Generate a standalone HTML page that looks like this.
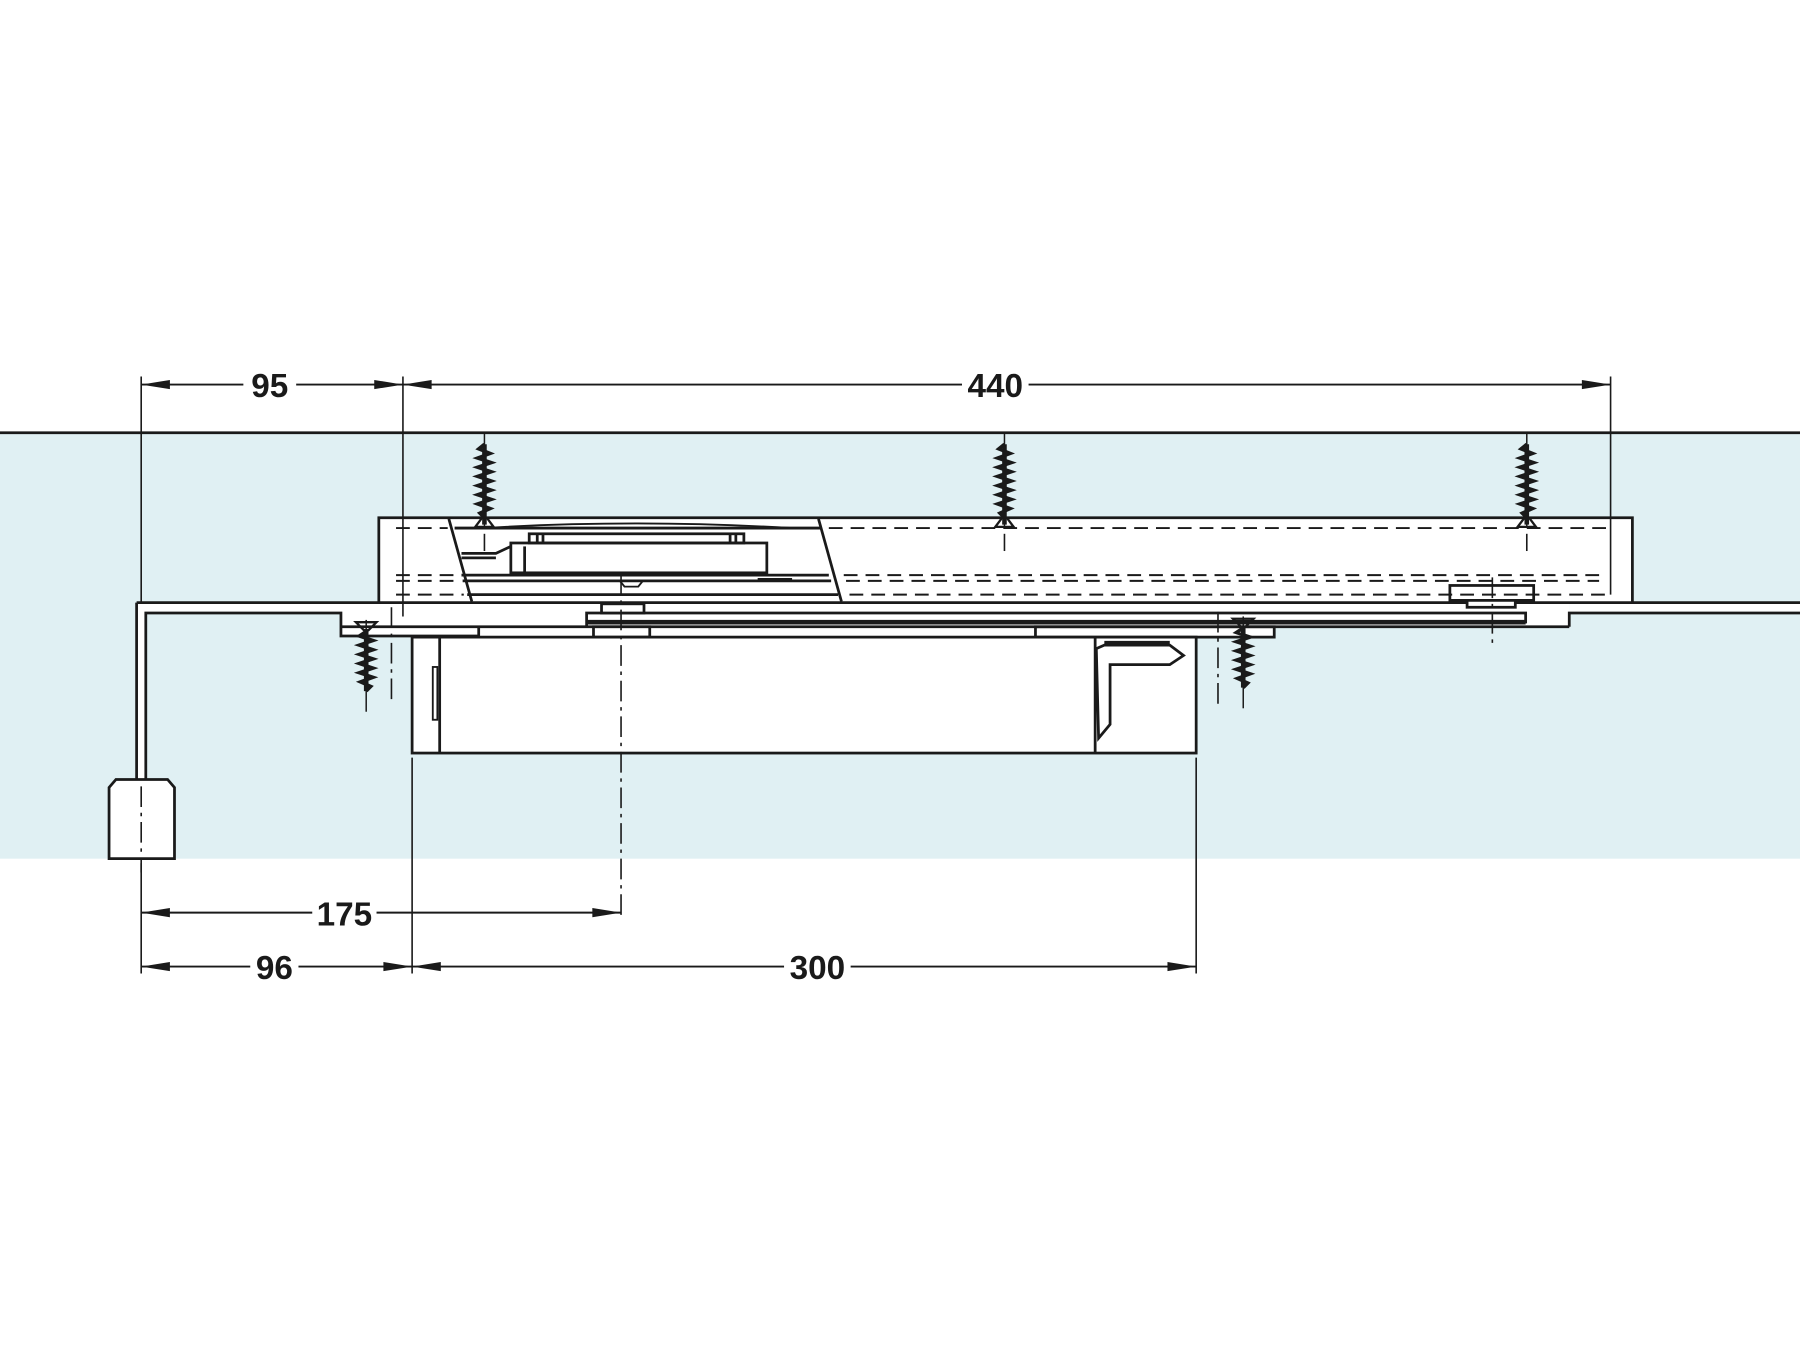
<!DOCTYPE html>
<html><head><meta charset="utf-8"><style>
html,body{margin:0;padding:0;background:#fff;}
svg{display:block;}
text{font-family:"Liberation Sans",sans-serif;font-weight:bold;font-size:29px;fill:#1a1a1a;}
</style></head><body>
<svg width="1800" height="1350" viewBox="0 0 1568 1176" xmlns="http://www.w3.org/2000/svg">
<defs>
<g id="scr">
 <line x1="0" y1="-2" x2="0" y2="80" stroke="#1a1a1a" stroke-width="1.3"/>
 <polyline points="0,8 -5,12 5,16 -6,20 6,24 -6,28 6,32 -6,36 6,40 -6,44 6,48 -6,52 6,56 -6,60 5,64 -4,68 0,72" fill="none" stroke="#1a1a1a" stroke-width="3"/>
 <line x1="0" y1="8" x2="0" y2="78" stroke="#1a1a1a" stroke-width="4"/>
 <path d="M-8,80 L8,80 L2,72 L-2,72 Z" fill="none" stroke="#1a1a1a" stroke-width="2"/>
</g>
<g id="scrd">
 <line x1="0" y1="0" x2="0" y2="80" stroke="#1a1a1a" stroke-width="1.3"/>
 <path d="M-9,2 L9,2 L2,9 L-2,9 Z" fill="none" stroke="#1a1a1a" stroke-width="2"/>
 <polyline points="0,10 -6,14 6,18 -6,22 6,26 -6,30 6,34 -6,38 6,42 -6,46 6,50 -5,54 4,58 0,62" fill="none" stroke="#1a1a1a" stroke-width="3"/>
 <line x1="0" y1="8" x2="0" y2="62" stroke="#1a1a1a" stroke-width="4"/>
</g>
</defs>
<rect x="0" y="377" width="1568" height="371" fill="#e0f0f3"/>
<line x1="0" y1="377" x2="1568" y2="377" stroke="#1a1a1a" stroke-width="2.4"/>

<g fill="#fff" stroke="none">
 <rect x="330" y="451" width="1092" height="74"/>
 <rect x="297" y="525" width="1070" height="21"/>
 <rect x="1367" y="525" width="201" height="9"/>
 <rect x="119" y="525" width="180" height="9"/>
 <rect x="119" y="525" width="8" height="160"/>
 <rect x="297" y="546" width="120" height="8"/>
 <rect x="902" y="546" width="208" height="9"/>
 <rect x="359" y="546" width="683" height="110"/>
</g>

<g fill="none" stroke="#1a1a1a" stroke-width="2.4">
 <polyline points="330,525 330,451 1422,451 1422,525"/>
 <line x1="119" y1="525" x2="1568" y2="525"/>
 <polyline points="119,680 119,525"/>
 <polyline points="127,680 127,534 297,534 297,554 417,554 417,546"/>
 <line x1="297" y1="546" x2="1367" y2="546"/>
 <polyline points="1367,546 1367,534 1568,534"/>
 <path d="M95,748 L95,686 L101,679 L146,679 L152,686 L152,748 Z" fill="#fff"/>
 <polyline points="511,546 511,534 1329,534 1329,543"/>
 <line x1="511" y1="542" x2="1329" y2="542" stroke-width="4"/>
 <rect x="524" y="526" width="37" height="8" fill="#fff"/>
 <rect x="517" y="546" width="49" height="9" fill="#fff"/>
 <rect x="902" y="546" width="208" height="9"/>
 <rect x="359" y="555" width="683" height="101"/>
 <line x1="383" y1="555" x2="383" y2="656"/>
 <rect x="377" y="581" width="4" height="46" stroke-width="1.6"/>
 <line x1="954" y1="555" x2="954" y2="656"/>
 <polygon points="955,565 962,562 1019,562 1031,571 1019,579 967,579 967,631 957,643"/>
 <line x1="962" y1="560" x2="1019" y2="560" stroke-width="3.5"/>
 <line x1="391" y1="452" x2="411" y2="524"/>
 <line x1="713" y1="452" x2="733" y2="524"/>
 <line x1="396" y1="460" x2="715" y2="460"/>
 <line x1="402" y1="501" x2="722" y2="501"/>
 <line x1="403" y1="506" x2="724" y2="506"/>
 <line x1="407" y1="518" x2="730" y2="518"/>
 <path d="M420,460 Q555,452 690,460" stroke-width="1.6"/>
 <rect x="461" y="465" width="187" height="8"/>
 <line x1="468" y1="465" x2="468" y2="473"/><line x1="473" y1="465" x2="473" y2="473"/>
 <line x1="636" y1="465" x2="636" y2="473"/><line x1="641" y1="465" x2="641" y2="473"/>
 <rect x="445" y="473" width="223" height="26"/>
 <line x1="457" y1="476" x2="457" y2="498"/>
 <polyline points="445,476 432,482 402,482 M402,490 432,490 445,496" />
 <line x1="402" y1="486" x2="432" y2="486"/>
 <path d="M540,506 L544,511 L556,511 L560,506" stroke-width="1.6"/>
 <line x1="606" y1="500" x2="628" y2="500" stroke-width="3"/>
 <line x1="480" y1="500" x2="500" y2="500" stroke-width="3"/>
 <line x1="660" y1="505" x2="690" y2="505" stroke-width="3"/>
 <rect x="1263" y="510" width="73" height="13" fill="#fff"/>
 <rect x="1278" y="523" width="42" height="6" fill="#fff"/>
</g>

<g stroke="#1a1a1a" stroke-width="1.7" fill="none" stroke-dasharray="12,7">
 <line x1="345" y1="460" x2="390" y2="460"/>
 <line x1="722" y1="460" x2="1402" y2="460"/>
 <line x1="345" y1="501" x2="398" y2="501"/>
 <line x1="345" y1="506" x2="398" y2="506"/>
 <line x1="345" y1="518" x2="404" y2="518"/>
 <line x1="735" y1="501" x2="1393" y2="501"/>
 <line x1="737" y1="506" x2="1393" y2="506"/>
 <line x1="740" y1="518" x2="1402" y2="518"/>
</g>
<g stroke="#1a1a1a" stroke-width="1.4" fill="none" stroke-dasharray="18,5,3,5">
 <line x1="541" y1="500" x2="541" y2="800"/>
 <line x1="123" y1="685" x2="123" y2="760"/>
 <line x1="341" y1="529" x2="341" y2="613"/>
 <line x1="1061" y1="533" x2="1061" y2="614"/>
 <line x1="1300" y1="503" x2="1300" y2="560"/>
 <line x1="422" y1="465" x2="422" y2="480"/>
 <line x1="875" y1="465" x2="875" y2="480"/>
 <line x1="1330" y1="465" x2="1330" y2="480"/>
</g>

<use href="#scr" x="422" y="379"/>
<use href="#scr" x="875" y="379"/>
<use href="#scr" x="1330" y="379"/>
<use href="#scrd" x="319" y="540"/>
<use href="#scrd" x="1083" y="537"/>

<g stroke="#1a1a1a" stroke-width="1.4">
 <line x1="123" y1="328" x2="123" y2="525"/>
 <line x1="123" y1="752" x2="123" y2="848"/>
 <line x1="351" y1="328" x2="351" y2="537"/>
 <line x1="1403" y1="328" x2="1403" y2="518"/>
 <line x1="359" y1="660" x2="359" y2="848"/>
 <line x1="1042" y1="660" x2="1042" y2="848"/>
</g>

<g stroke="#1a1a1a" stroke-width="1.7">
 <line x1="123" y1="335" x2="212" y2="335"/><line x1="258" y1="335" x2="351" y2="335"/>
 <line x1="351" y1="335" x2="838" y2="335"/><line x1="896" y1="335" x2="1403" y2="335"/>
 <line x1="123" y1="795" x2="272" y2="795"/><line x1="328" y1="795" x2="541" y2="795"/>
 <line x1="123" y1="842" x2="218" y2="842"/><line x1="260" y1="842" x2="359" y2="842"/>
 <line x1="359" y1="842" x2="683" y2="842"/><line x1="741" y1="842" x2="1042" y2="842"/>
</g>
<g fill="#1a1a1a">
 <polygon points="123,335 148,331 148,339"/><polygon points="351,335 326,331 326,339"/>
 <polygon points="351,335 376,331 376,339"/><polygon points="1403,335 1378,331 1378,339"/>
 <polygon points="123,795 148,791 148,799"/><polygon points="541,795 516,791 516,799"/>
 <polygon points="123,842 148,838 148,846"/><polygon points="359,842 334,838 334,846"/>
 <polygon points="359,842 384,838 384,846"/><polygon points="1042,842 1017,838 1017,846"/>
</g>
<text x="235" y="346" text-anchor="middle">95</text>
<text x="867" y="346" text-anchor="middle">440</text>
<text x="300" y="806" text-anchor="middle">175</text>
<text x="239" y="853" text-anchor="middle">96</text>
<text x="712" y="853" text-anchor="middle">300</text>
</svg>
</body></html>
